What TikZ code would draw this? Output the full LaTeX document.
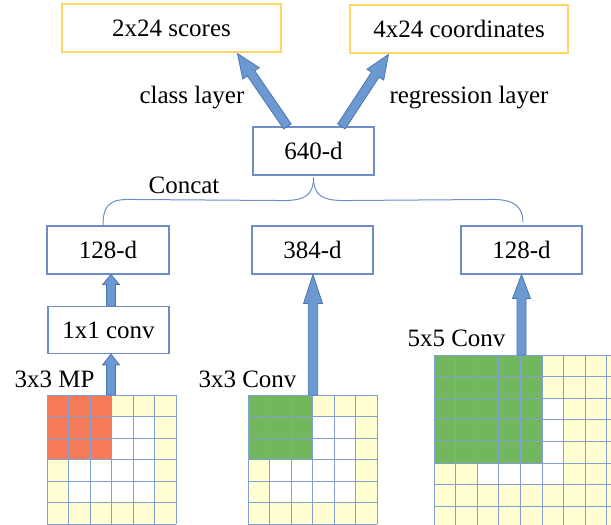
\documentclass[tikz,border=0pt]{standalone}
\usepackage{fontspec}
\setmainfont{Liberation Serif}
\usetikzlibrary{calc}
\definecolor{boxblue}{RGB}{108,142,196}
\definecolor{gold}{RGB}{255,214,102}
\definecolor{arrfill}{RGB}{108,153,210}
\definecolor{arrline}{RGB}{74,118,180}
\definecolor{cellyel}{RGB}{255,255,210}
\definecolor{cellred}{RGB}{245,122,88}
\definecolor{cellgrn}{RGB}{114,182,94}
\definecolor{gridblue}{RGB}{130,160,210}
\tikzset{
  box/.style={draw=boxblue, line width=1.1pt, minimum width=121pt, minimum height=48pt, inner sep=0pt, fill=white},
  topbox/.style={box, draw=gold, minimum width=219pt},
  lbl/.style={anchor=base, inner sep=0pt},
  fatarrow/.style={fill=arrfill, draw=arrline, line width=0.8pt, line join=miter},
  brace/.style={draw=boxblue, line width=1pt},
  gridline/.style={draw=gridblue, line width=0.9pt},
  every node/.style={font=\fontsize{25}{30}\selectfont}
}
% #1 from, #2 to, #3 head length, #4 shaft half width, #5 head half width
\newcommand\FatArrowX[5]{%
  \filldraw[fatarrow] ($(#1)!#4!90:(#2)$) -- ($(#2)!#3!(#1)!#4!90:(#2)$) -- ($(#2)!#3!(#1)!#5!90:(#2)$) -- (#2)
    -- ($(#2)!#3!(#1)!#5!-90:(#2)$) -- ($(#2)!#3!(#1)!#4!-90:(#2)$) -- ($(#1)!#4!-90:(#2)$) -- cycle;}
\begin{document}
\begin{tikzpicture}[x=1pt,y=-1pt]
\useasboundingbox (0,0) rectangle (611,525);

% ---------- grids ----------
% left grid (3x3 MP)
\fill[cellyel] (47,395) rectangle (176,524);
\fill[white] (68.5,416.5) rectangle (154.5,502.5);
\fill[cellred] (47,395) rectangle (111.5,459.5);
\foreach \i in {0,...,6} {
  \draw[gridline] ({47+\i*21.5},395) -- ({47+\i*21.5},524);
  \draw[gridline] (47,{395+\i*21.5}) -- (176,{395+\i*21.5});
}
% middle grid (3x3 Conv)
\fill[cellyel] (248,395) rectangle (377,524);
\fill[white] (269.5,416.5) rectangle (355.5,502.5);
\fill[cellgrn] (248,395) rectangle (312.5,459.5);
\foreach \i in {0,...,6} {
  \draw[gridline] ({248+\i*21.5},395) -- ({248+\i*21.5},524);
  \draw[gridline] (248,{395+\i*21.5}) -- (377,{395+\i*21.5});
}
% right grid (5x5 Conv)
\begin{scope}
\clip (0,0) rectangle (611,525);
\fill[cellyel] (434,355) rectangle (628.4,549.4);
\fill[white] (542,398.2) rectangle (563.6,484.6);
\fill[white] (477.2,463) rectangle (563.6,484.6);
\fill[cellgrn] (434,355) rectangle (542,463);
\foreach \i in {0,...,9} {
  \draw[gridline] ({434+\i*21.6},355) -- ({434+\i*21.6},549.4);
  \draw[gridline] (434,{355+\i*21.6}) -- (628.4,{355+\i*21.6});
}
\end{scope}

% ---------- boxes ----------
\node[topbox] (scores) at (171.5,28) {2x24 scores};
\node[topbox, minimum width=218pt] (coords) at (459,29) {4x24 coordinates};
\node[box] (d640) at (313.5,151) {640-d};
\node[box, minimum width=122pt] (l128) at (108,250) {128-d};
\node[box] (m384) at (312.5,250) {384-d};
\node[box] (r128) at (521.5,250) {128-d};
\node[box, minimum height=47pt] (conv1) at (108.5,330) {1x1 conv};

% ---------- labels ----------
\node[lbl] (lclass) at (192,103) {class layer};
\node[lbl] (lreg) at (469,103) {regression layer};
\node[lbl] (lconcat) at (184,193) {Concat};
\node[lbl] (lmp) at (54.5,387) {3x3 MP};
\node[lbl] (lc3) at (247.5,387) {3x3 Conv};
\node[lbl] (lc5) at (456.5,346) {5x5 Conv};

% ---------- coordinates ----------
\coordinate (g1top) at (111,395);
\coordinate (g2top) at (313,395);
\coordinate (g3top) at (521.5,355);
\coordinate (a1s) at ($(d640.north west)+(35,0)$);
\coordinate (a1e) at ($(scores.south west)+(176,1)$);
\coordinate (a2s) at ($(d640.north west)+(89,0)$);
\coordinate (a2e) at ($(coords.south west)+(39,1)$);
\coordinate (c1n) at (conv1.north -| g1top);
\coordinate (c1s) at (conv1.south -| g1top);
\coordinate (l1s) at (l128.south -| g1top);
\coordinate (m1s) at (m384.south -| g2top);
\coordinate (r1s) at (r128.south -| g3top);
\coordinate (cusp) at ($(d640.south)+(0,2)$);
\coordinate (lend) at ($(l128.north)+(-5,0)$);
\coordinate (rend) at ($(r128.north)+(1.5,-3)$);

% ---------- arrows ----------
\FatArrowX{a1s}{a1e}{24pt}{4.5pt}{10pt}
\FatArrowX{a2s}{a2e}{24pt}{4.5pt}{10pt}
\FatArrowX{c1n}{l1s}{10pt}{4.5pt}{8.5pt}
\FatArrowX{g1top}{c1s}{11pt}{4.5pt}{8.5pt}
\FatArrowX{g2top}{m1s}{29pt}{4.7pt}{9.5pt}
\FatArrowX{g3top}{r1s}{24pt}{4.5pt}{9pt}

% ---------- concat brace ----------
\draw[brace] (cusp) .. controls ($(cusp)+(0,17)$) and ($(cusp)+(-8,23)$) .. ($(cusp)+(-30,23)$)
  -- ($(lend)+(25,-26)$) .. controls ($(lend)+(5,-26)$) and ($(lend)+(0,-18)$) .. (lend);
\draw[brace] (cusp) .. controls ($(cusp)+(0,17)$) and ($(cusp)+(8,23)$) .. ($(cusp)+(30,23)$)
  -- ($(rend)+(-30,-23)$) .. controls ($(rend)+(-8,-23)$) and ($(rend)+(0,-15)$) .. (rend);
\end{tikzpicture}
\end{document}
